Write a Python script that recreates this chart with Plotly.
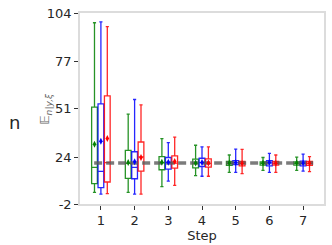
import plotly.graph_objects as go

steps = [1, 2, 3, 4, 5, 6, 7]
series_names = ["green", "blue", "red"]
colors = {"green": "rgba(0,128,0,0.85)", "blue": "rgba(0,0,255,0.85)", "red": "rgba(255,0,0,0.85)"}
marker_colors = {"green": "#008000", "blue": "#0000ff", "red": "#ff0000"}
offsets = {"green": -0.19, "blue": 0.0, "red": 0.19}

green_low = [4.4, 4.4, 7.6, 13.8, 15.6, 16.7, 16.7]
green_q1 = [9.3, 12.2, 17.0, 18.1, 19.4, 19.6, 19.6]
green_med = [18.3, 20.5, 20.8, 20.6, 20.6, 20.6, 20.6]
green_q3 = [51.8, 27.8, 24.3, 22.9, 21.6, 21.4, 21.4]
green_high = [98.6, 47.9, 34.3, 30.6, 25.2, 23.8, 24.0]
green_mean = [31.2, 21.0, 21.2, 20.7, 20.7, 20.7, 20.7]

blue_low = [3.5, 3.5, 10.7, 13.4, 15.6, 15.6, 16.3]
blue_q1 = [7.1, 12.0, 17.4, 18.8, 19.8, 19.2, 19.2]
blue_med = [16.1, 18.3, 21.0, 21.0, 20.8, 20.8, 20.6]
blue_q3 = [53.6, 27.0, 23.8, 23.4, 22.1, 22.0, 21.8]
blue_high = [99.1, 56.0, 32.1, 29.7, 28.5, 26.1, 25.7]
blue_mean = [32.8, 21.4, 21.2, 21.0, 21.0, 21.0, 20.8]

red_low = [3.8, 3.5, 8.3, 13.4, 14.9, 15.6, 16.0]
red_q1 = [10.2, 16.3, 17.9, 18.5, 19.2, 19.6, 19.4]
red_med = [21.0, 24.1, 20.7, 20.6, 20.5, 20.6, 20.6]
red_q3 = [58.0, 32.4, 24.7, 23.0, 21.6, 21.6, 21.6]
red_high = [96.4, 53.0, 35.1, 29.7, 28.3, 25.2, 24.3]
red_mean = [34.3, 23.8, 21.6, 20.7, 20.5, 20.6, 20.6]

reference_value = 20.7
y_ticks = [-2, 24, 51, 77, 104]

data = {
    "green": (green_low, green_q1, green_med, green_q3, green_high, green_mean),
    "blue": (blue_low, blue_q1, blue_med, blue_q3, blue_high, blue_mean),
    "red": (red_low, red_q1, red_med, red_q3, red_high, red_mean),
}

fig = go.Figure()
for name in series_names:
    low, q1, med, q3, high, mean = data[name]
    xs = [s + offsets[name] for s in steps]
    fig.add_trace(go.Box(
        x=xs, q1=q1, median=med, q3=q3, lowerfence=low, upperfence=high,
        width=0.17, whiskerwidth=0.55,
        line=dict(color=colors[name], width=1.3),
        fillcolor="rgba(0,0,0,0)", boxpoints=False, showlegend=False,
        hoverinfo="skip",
    ))

fig.add_trace(go.Scatter(
    x=[steps[0] - 0.2, steps[-1] + 0.3], y=[reference_value, reference_value],
    mode="lines", line=dict(color="rgba(90,90,90,0.8)", width=3.5, dash="8px,4px"),
    showlegend=False, hoverinfo="skip",
))

for name in series_names:
    mean = data[name][5]
    xs = [s + offsets[name] for s in steps]
    fig.add_trace(go.Scatter(
        x=xs, y=mean, mode="markers",
        marker=dict(symbol="diamond-tall", size=5, color=marker_colors[name]),
        showlegend=False, hoverinfo="skip",
    ))

axis_common = dict(
    showline=True, mirror=True, linecolor="#dcdcdc", linewidth=1.5,
    showgrid=False, zeroline=False, ticks="outside", ticklen=4, tickwidth=1,
    tickcolor="#333333", tickfont=dict(family="DejaVu Sans", size=13, color="#262626"),
)

fig.update_layout(
    width=332, height=245,
    margin=dict(l=80, r=6, t=10, b=40),
    paper_bgcolor="white", plot_bgcolor="white",
    boxmode="overlay",
    xaxis=dict(range=[0.38, 7.62], tickvals=steps, ticktext=[str(s) for s in steps],
               title=dict(text="Step", font=dict(family="DejaVu Sans", size=13, color="#262626"), standoff=2),
               **axis_common),
    yaxis=dict(range=[-2, 104], tickvals=y_ticks, ticktext=[str(t) for t in y_ticks], **axis_common),
    annotations=[
        dict(text="n", xref="paper", yref="paper", x=-0.30, y=0.427, showarrow=False,
             font=dict(family="DejaVu Sans", size=18, color="#262626")),
        dict(text="<i>𝔼<sub>n|y,ξ</sub></i>", xref="paper", yref="paper", x=-0.185, y=0.50,
             showarrow=False, textangle=-90,
             font=dict(family="DejaVu Sans", size=13, color="#666666")),
    ],
)

fig.write_html("out.html", config={"displayModeBar": False},
               post_script="document.body.style.margin='0';")
